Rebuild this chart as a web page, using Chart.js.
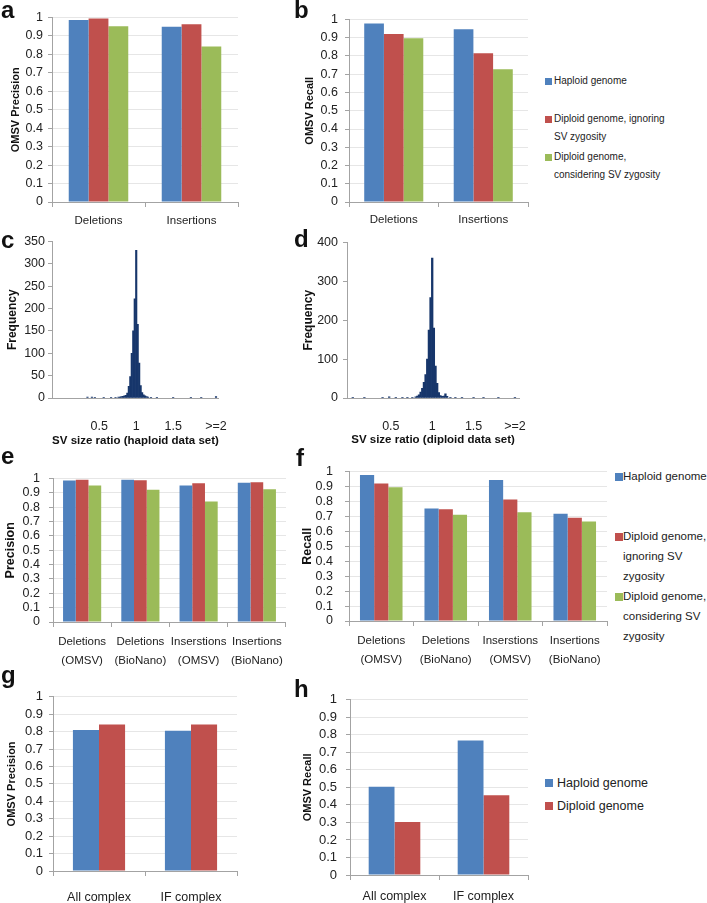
<!DOCTYPE html>
<html>
<head>
<meta charset="utf-8">
<script src="https://cdn.jsdelivr.net/npm/chart.js@4/dist/chart.umd.min.js"></script>
<style>
  body { margin: 0; width: 707px; height: 903px; position: relative; overflow: hidden; background: #fff; font-family: "Liberation Sans", Arial, sans-serif; }
  canvas { position: absolute; }
  .tag { position: absolute; font: bold 24px "Liberation Sans", Arial, sans-serif; line-height: 1; color: #111; }
  .sw { position: absolute; }
  .lg { position: absolute; white-space: nowrap; color: #222; }
</style>
</head>
<body>
<script>
// --- data ---
const svTypes = ['Deletions', 'Insertions'];
const precisionHaploid = [0.987, 0.950];
const precisionIgnoring = [0.995, 0.964];
const precisionConsidering = [0.953, 0.843];
const recallHaploid = [0.978, 0.946];
const recallIgnoring = [0.920, 0.815];
const recallConsidering = [0.897, 0.727];

const methodLabels = [['Deletions', '(OMSV)'], ['Deletions', '(BioNano)'], ['Inserstions', '(OMSV)'], ['Insertions', '(BioNano)']];
const cmpPrecisionHaploid = [0.986, 0.992, 0.952, 0.970];
const cmpPrecisionIgnoring = [0.992, 0.987, 0.967, 0.973];
const cmpPrecisionConsidering = [0.952, 0.922, 0.840, 0.925];
const cmpRecallHaploid = [0.977, 0.752, 0.943, 0.717];
const cmpRecallIgnoring = [0.920, 0.747, 0.812, 0.690];
const cmpRecallConsidering = [0.895, 0.710, 0.728, 0.665];

const complexTypes = ['All complex', 'IF complex'];
const complexPrecisionHaploid = [0.809, 0.805];
const complexPrecisionDiploid = [0.841, 0.841];
const complexRecallHaploid = [0.503, 0.768];
const complexRecallDiploid = [0.302, 0.455];

const haploidRatioBins = [0.34, 0.40, 0.44, 0.56, 0.66, 0.72, 0.76, 0.78, 0.80, 0.82, 0.84, 0.86, 0.88, 0.90, 0.92, 0.94, 0.96, 0.98, 1.00, 1.02, 1.04, 1.06, 1.08, 1.10, 1.12, 1.14, 1.16, 1.20, 1.28, 1.50, 1.74, 1.88, 2.08];
const haploidRatioCounts = [2, 2, 1, 1, 1, 1, 2, 2, 3, 4, 5, 6, 11, 26, 48, 100, 150, 222, 330, 165, 78, 28, 12, 7, 5, 3, 2, 1, 1, 1, 1, 1, 3];
const haploidTickValues = [0.5, 1, 1.5, 2.08];

const diploidRatioBins = [0.04, 0.18, 0.40, 0.48, 0.56, 0.64, 0.70, 0.76, 0.80, 0.82, 0.84, 0.86, 0.88, 0.90, 0.92, 0.94, 0.96, 0.98, 1.00, 1.02, 1.04, 1.06, 1.08, 1.10, 1.12, 1.14, 1.16, 1.18, 1.22, 1.28, 1.36, 1.50, 1.62, 1.80, 2.00];
const diploidRatioCounts = [2, 1, 1, 3, 2, 1, 2, 2, 3, 5, 8, 15, 25, 40, 60, 100, 175, 258, 360, 180, 82, 38, 14, 6, 4, 5, 11, 4, 2, 2, 1, 1, 1, 1, 2];
const diploidTickValues = [0.5, 1, 1.5, 2];

const ratioTickLabels = ['0.5', '1', '1.5', '>=2'];

const legendThree = [['Haploid genome'], ['Diploid genome, ignoring', 'SV zygosity'], ['Diploid genome,', 'considering SV zygosity']];
const legendThreeNarrow = [['Haploid genome'], ['Diploid genome,', 'ignoring SV', 'zygosity'], ['Diploid genome,', 'considering SV', 'zygosity']];
const legendTwo = [['Haploid genome'], ['Diploid genome']];

// --- styling ---
const FONT = '"Liberation Sans", Arial, sans-serif';
const AXIS = '#a3a3a3';
const GRID = '#e6e6e6';
const TEXT = '#222';
const colors3 = ['#4f81bd', '#c0504d', '#9bbb59'];
const colors2 = ['#4f81bd', '#c0504d'];
const NAVY = '#17366b';

function makeCanvas(g) {
  const cv = document.createElement('canvas');
  const left = Math.round(g.titleCx - g.titleSize * 0.6);
  const top = g.plotT - 10;
  cv.width = g.plotR + g.padR - left;
  cv.height = g.bottom - top;
  cv.style.left = left + 'px';
  cv.style.top = top + 'px';
  document.body.appendChild(cv);
  g.yW = g.plotL - left;
  g.xH = g.bottom - g.plotB;
  return cv;
}

function barPanel(g, labels, series, colors, yTitle) {
  const cv = makeCanvas(g);
  new Chart(cv, {
    type: 'bar',
    data: {
      labels: labels,
      datasets: series.map((vals, i) => ({
        data: vals,
        backgroundColor: colors[i],
        borderWidth: 0,
        categoryPercentage: g.cat,
        barPercentage: 1
      }))
    },
    options: {
      responsive: false,
      animation: false,
      layout: { padding: { top: 10, right: g.padR, left: 0, bottom: 0 } },
      plugins: { legend: { display: false }, tooltip: { enabled: false } },
      scales: {
        x: {
          grid: { drawOnChartArea: false, offset: true, tickLength: 5, color: AXIS },
          border: { color: AXIS },
          ticks: { font: { family: FONT, size: g.xSize, lineHeight: g.xLine }, color: TEXT, padding: g.xPad, maxRotation: 0, autoSkip: false },
          afterFit: s => { s.height = g.xH; }
        },
        y: {
          min: 0,
          max: 1,
          ticks: { stepSize: 0.1, autoSkip: false, font: { family: FONT, size: g.ySize }, color: TEXT, padding: g.yGap - 4,
                   callback: v => String(+v.toFixed(1)) },
          grid: { color: GRID, tickColor: AXIS, tickLength: 4 },
          border: { color: AXIS },
          title: { display: true, text: yTitle, font: { family: FONT, size: g.titleSize, weight: 'bold' }, color: '#111', padding: 0 },
          afterFit: s => { s.width = g.yW; }
        }
      }
    }
  });
}

function histPanel(g, bins, counts, tickValues, yMax, yStep, yTitle, xTitle) {
  const cv = makeCanvas(g);
  new Chart(cv, {
    type: 'bar',
    data: {
      datasets: [{
        data: bins.map((b, i) => ({ x: b, y: counts[i] })),
        backgroundColor: NAVY,
        borderWidth: 0,
        categoryPercentage: 1,
        barPercentage: 1
      }]
    },
    options: {
      responsive: false,
      animation: false,
      layout: { padding: { top: 10, right: g.padR, left: 0, bottom: 0 } },
      plugins: { legend: { display: false }, tooltip: { enabled: false } },
      scales: {
        x: {
          type: 'linear',
          min: g.xMin,
          max: g.xMax,
          offset: false,
          afterBuildTicks: s => { s.ticks = tickValues.map(v => ({ value: v })); },
          grid: { display: false, offset: false },
          border: { color: AXIS },
          ticks: { font: { family: FONT, size: 12.5 }, color: TEXT, padding: g.xPad, maxRotation: 0, autoSkip: false,
                   callback: (v, i) => ratioTickLabels[i] },
          title: { display: true, text: xTitle, font: { family: FONT, size: 11.5, weight: 'bold' }, color: '#111', padding: 0 },
          afterFit: s => { s.height = g.xH; }
        },
        y: {
          min: 0,
          max: yMax,
          ticks: { stepSize: yStep, autoSkip: false, font: { family: FONT, size: 12.5 }, color: TEXT, padding: g.yGap - 4 },
          grid: { drawOnChartArea: false, tickColor: AXIS, tickLength: 4 },
          border: { color: AXIS },
          title: { display: true, text: yTitle, font: { family: FONT, size: g.titleSize, weight: 'bold' }, color: '#111', padding: 0 },
          afterFit: s => { s.width = g.yW; }
        }
      }
    }
  });
}

function legend(sx, tx, centers, lineH, size, sw, items, colors) {
  items.forEach((lines, i) => {
    const sq = document.createElement('div');
    sq.className = 'sw';
    sq.style.cssText = `left:${sx}px;top:${centers[i] - sw / 2}px;width:${sw}px;height:${sw}px;background:${colors[i]}`;
    document.body.appendChild(sq);
    lines.forEach((t, j) => {
      const d = document.createElement('div');
      d.className = 'lg';
      d.textContent = t;
      d.style.cssText = `left:${tx}px;top:${centers[i] + j * lineH - lineH / 2}px;line-height:${lineH}px;font-size:${size}px`;
      document.body.appendChild(d);
    });
  });
}

function tag(letter, x, y) {
  const d = document.createElement('div');
  d.className = 'tag';
  d.textContent = letter;
  d.style.left = x + 'px';
  d.style.top = y + 'px';
  document.body.appendChild(d);
}

// a
barPanel({ plotL: 52, plotT: 15, plotR: 238, plotB: 202, bottom: 232, padR: 2, titleCx: 16, titleSize: 11,
           cat: 0.64, xSize: 11.5, xLine: 1.2, xPad: 7, ySize: 12.5, yGap: 9 },
  svTypes, [precisionHaploid, precisionIgnoring, precisionConsidering], colors3, 'OMSV Precision');
// b
barPanel({ plotL: 349, plotT: 15, plotR: 528, plotB: 202, bottom: 232, padR: 2, titleCx: 310, titleSize: 11,
           cat: 0.66, xSize: 11.5, xLine: 1.2, xPad: 6, ySize: 12.5, yGap: 11 },
  svTypes, [recallHaploid, recallIgnoring, recallConsidering], colors3, 'OMSV Recall');
// c
histPanel({ plotL: 52, plotT: 241, plotR: 228, plotB: 398, bottom: 448, padR: 12, titleCx: 12, titleSize: 12,
            xMin: -0.14, xMax: 2.12, xPad: 13, yGap: 7 },
  haploidRatioBins, haploidRatioCounts, haploidTickValues, 350, 50, 'Frequency', 'SV size ratio (haploid data set)');
// d
histPanel({ plotL: 347, plotT: 240, plotR: 527, plotB: 398, bottom: 447, padR: 12, titleCx: 308, titleSize: 12,
            xMin: -0.03, xMax: 2.05, xPad: 13, yGap: 9 },
  diploidRatioBins, diploidRatioCounts, diploidTickValues, 400, 100, 'Frequency', 'SV size ratio (diploid data set)');
// e
barPanel({ plotL: 53, plotT: 472, plotR: 287, plotB: 622, bottom: 670, padR: 2, titleCx: 10.5, titleSize: 12.5,
           cat: 0.655, xSize: 11.5, xLine: 1.6, xPad: 6, ySize: 12.5, yGap: 13 },
  methodLabels, [cmpPrecisionHaploid, cmpPrecisionIgnoring, cmpPrecisionConsidering], colors3, 'Precision');
// f
barPanel({ plotL: 349, plotT: 462, plotR: 607, plotB: 621, bottom: 670, padR: 2, titleCx: 307, titleSize: 12.5,
           cat: 0.66, xSize: 11.5, xLine: 1.6, xPad: 6, ySize: 12.5, yGap: 16 },
  methodLabels, [cmpRecallHaploid, cmpRecallIgnoring, cmpRecallConsidering], colors3, 'Recall');
// g
barPanel({ plotL: 53, plotT: 693, plotR: 237, plotB: 871, bottom: 903, padR: 2, titleCx: 12, titleSize: 11,
           cat: 0.567, xSize: 12.5, xLine: 1.2, xPad: 14, ySize: 13, yGap: 10 },
  complexTypes, [complexPrecisionHaploid, complexPrecisionDiploid], colors2, 'OMSV Precision');
// h
barPanel({ plotL: 350, plotT: 693, plotR: 528, plotB: 875, bottom: 903, padR: 2, titleCx: 308, titleSize: 11,
           cat: 0.58, xSize: 12.5, xLine: 1.2, xPad: 9, ySize: 13, yGap: 13 },
  complexTypes, [complexRecallHaploid, complexRecallDiploid], colors2, 'OMSV Recall');

legend(545, 554, [81, 119, 157], 17.5, 10, 7, legendThree, colors3);
legend(615, 623, [477, 537, 597], 19.7, 11.5, 7.5, legendThreeNarrow, colors3);
legend(545, 557, [783, 806], 22.7, 12.5, 8, legendTwo, colors2);

tag('a', 1, -2);
tag('b', 294, -2);
tag('c', 1, 228);
tag('d', 294, 227);
tag('e', 1, 444);
tag('f', 296, 446);
tag('g', 1, 663);
tag('h', 294, 677);
</script>
</body>
</html>
